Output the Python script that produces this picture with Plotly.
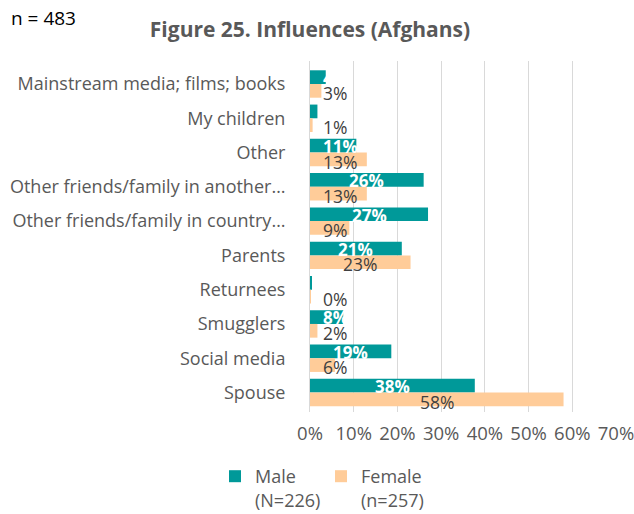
import plotly.graph_objects as go

categories = [
    "Mainstream media; films; books",
    "My children",
    "Other",
    "Other friends/family in another…",
    "Other friends/family in country…",
    "Parents",
    "Returnees",
    "Smugglers",
    "Social media",
    "Spouse",
]
male_values = [3.6, 1.7, 10.6, 26.0, 27.0, 21.0, 0.4, 7.6, 18.6, 37.7]
female_values = [2.6, 0.6, 13.0, 13.0, 9.0, 23.0, 0.2, 1.7, 5.7, 58.0]
male_labels = ["4%", "2%", "11%", "26%", "27%", "21%", "0%", "8%", "19%", "38%"]
female_labels = ["3%", "1%", "13%", "13%", "9%", "23%", "0%", "2%", "6%", "58%"]
x_ticks = [0, 10, 20, 30, 40, 50, 60, 70]
x_tick_labels = ["0%", "10%", "20%", "30%", "40%", "50%", "60%", "70%"]

TEAL = "#009999"
PEACH = "#FFCC99"
GREY = "#595959"
FONT = "Open Sans"

W, H = 634, 514
ML, MR, MT, MB = 310, 18, 61, 102
PW, PH = W - ML - MR, H - MT - MB

fig = go.Figure()
fig.add_trace(go.Bar(
    y=categories, x=male_values, orientation="h", name="Male<br>(N=226)",
    marker=dict(color=TEAL, line=dict(width=0)), hoverinfo="x+y",
))
fig.add_trace(go.Bar(
    y=categories, x=female_values, orientation="h", name="Female<br>(n=257)",
    marker=dict(color=PEACH, line=dict(width=0)), hoverinfo="x+y",
))

annotations = []
for vals, labs, color, shift, bold, size in (
        (male_values, male_labels, "white", 6.0, True, 17),
        (female_values, female_labels, "#404040", -9.0, False, 17.5)):
    for cat, v, lab in zip(categories, vals, labs):
        common = dict(y=cat, xref="x", yref="y", text=f"<b>{lab}</b>" if bold else lab,
                      yshift=shift, showarrow=False,
                      font=dict(family=FONT, size=size, color=color))
        if v < 14:
            annotations.append(dict(x=0, xanchor="left", xshift=11, **common))
        else:
            annotations.append(dict(x=v / 2, xanchor="center", **common))

annotations.append(dict(x=(9 - ML) / PW, y=(H - MB - 18) / PH, xref="paper", yref="paper",
                        text="n = 483", xanchor="left", yanchor="middle", showarrow=False,
                        font=dict(family=FONT, size=19, color="black")))

fig.update_layout(
    width=W, height=H,
    margin=dict(l=ML, r=MR, t=MT, b=MB, autoexpand=False),
    paper_bgcolor="white", plot_bgcolor="white",
    barmode="group", bargap=0.2, bargroupgap=0,
    font=dict(family=FONT, size=18, color=GREY),
    title=dict(text="<b>Figure 25. Influences (Afghans)</b>", x=310 / W, xanchor="center",
               y=1 - 30 / H, yanchor="middle", font=dict(family=FONT, size=21, color=GREY)),
    showlegend=True,
    legend=dict(orientation="h", x=(215 - ML) / PW, y=-(458 - (H - MB)) / PH,
                xanchor="left", yanchor="top", entrywidth=61, entrywidthmode="pixels",
                valign="top", font=dict(family=FONT, size=18, color=GREY),
                traceorder="normal"),
    xaxis=dict(range=[0, 70], tickvals=x_ticks, ticktext=x_tick_labels, automargin=False,
               showgrid=True, gridcolor="#D9D9D9", gridwidth=1, zeroline=False,
               showline=False, ticks="", ticklabelstandoff=8, ticklabeloverflow="allow",
               tickfont=dict(family=FONT, size=18.5, color=GREY)),
    yaxis=dict(autorange="reversed", showline=True, linecolor="#D9D9D9", linewidth=1,
               automargin=False, ticks="", ticklabelstandoff=20,
               tickfont=dict(family=FONT, size=18, color=GREY)),
    annotations=annotations,
)

fig.write_html("out.html", config={"displayModeBar": False},
               post_script="document.body.style.margin='0';")
